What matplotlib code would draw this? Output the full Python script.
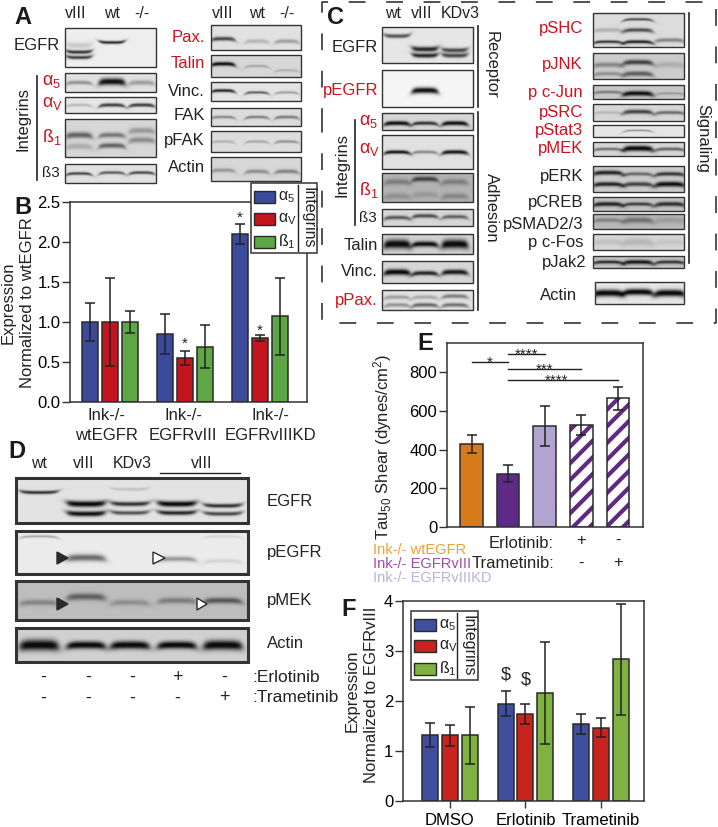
import numpy as np
import matplotlib
matplotlib.use("Agg")
import matplotlib.pyplot as plt
from matplotlib.patches import Polygon, Rectangle

plt.rcParams["font.family"] = ["Liberation Sans", "DejaVu Sans"]
plt.rcParams["mathtext.fontset"] = "custom"
plt.rcParams["mathtext.rm"] = "Liberation Sans"
plt.rcParams["mathtext.default"] = "regular"
plt.rcParams["hatch.linewidth"] = 3.0
plt.rcParams["text.color"] = "#222222"

W, H = 718, 827
INK = "#222222"
RED = "#C8141E"

# ── Bar data ───────────────────────────────────────────────────────────────
B_GROUPS = ["Ink-/-\nwtEGFR", "Ink-/-\nEGFRvIII", "Ink-/-\nEGFRvIIIKD"]
B_A5 = [1.00, 0.85, 2.10]
B_AV = [1.00, 0.55, 0.80]
B_B1 = [1.00, 0.69, 1.07]
B_A5_ERR = [0.24, 0.25, 0.125]
B_AV_ERR = [0.55, 0.09, 0.04]
B_B1_ERR = [0.135, 0.27, 0.48]
B_TICKS = [0.0, 0.5, 1.0, 1.5, 2.0, 2.5]

E_VALUES = [430, 275, 520, 527, 665]
E_ERR = [47, 44, 104, 53, 60]
E_TICKS = [0, 200, 400, 600, 800]
# bracket: from bar, to bar, height, stars, stars x
E_BRACKETS = [(0, 1, 854, "*", 0.5), (1, 2, 892, "****", 1.5), (1, 3, 818, "***", 2.0), (1, 4, 758, "****", 2.33)]

F_GROUPS = ["DMSO", "Erlotinib", "Trametinib"]
F_A5 = [1.32, 1.95, 1.54]
F_AV = [1.32, 1.74, 1.47]
F_B1 = [1.32, 2.16, 2.84]
F_A5_ERR = [0.235, 0.25, 0.20]
F_AV_ERR = [0.21, 0.20, 0.185]
F_B1_ERR = [0.57, 1.02, 1.11]
F_TICKS = [0, 1, 2, 3, 4]

# ── Blots: (label, y0, y1, background, [(lane, y fraction, darkness, thickness)]) ──
A1_LANES = [79, 112, 142]
A1_BLOTS = [
    ("EGFR", 28, 67, .93, [(0, .62, .8, 1.8), (0, .76, .75, 1.8), (0, .45, .15, 3), (1, .37, .85, 1.5)]),
    ("a5", 73, 92, .88, [(0, .5, .35, 2), (1, .45, .95, 3.5), (2, .5, .3, 2.5)]),
    ("aV", 97, 113, .90, [(0, .5, .2, 1.5), (1, .5, .75, 1.8), (2, .5, .75, 1.8)]),
    ("b1", 119, 157, .84, [(0, .42, .55, 3), (0, .72, .2, 3), (1, .42, .45, 2.5), (1, .7, .55, 2.5), (2, .3, .3, 3), (2, .55, .35, 3)]),
    ("b3", 164, 183, .88, [(0, .5, .7, 1.5), (1, .45, .6, 1.5), (2, .45, .7, 1.5)]),
]
A2_LANES = [223, 257, 287]
A2_BLOTS = [
    ("Pax.", 25, 50, .88, [(0, .55, .7, 2), (1, .65, .2, 2), (2, .65, .3, 2)]),
    ("Talin", 55, 77, .84, [(0, .4, .95, 2), (1, .5, .25, 1.2), (2, .7, .2, 1.2)]),
    ("Vinc.", 82, 101, .89, [(0, .45, .85, 1.6), (1, .55, .6, 1.3), (2, .55, .3, 1.3)]),
    ("FAK", 108, 126, .86, [(0, .5, .4, 1.4), (1, .5, .45, 1.4), (2, .5, .45, 1.6)]),
    ("pFAK", 131, 152, .87, [(0, .5, .2, 1.4), (1, .5, .25, 1.4), (2, .5, .35, 1.4)]),
    ("Actin", 157, 181, .84, [(0, .55, .3, 2), (1, .6, .35, 2), (2, .6, .4, 2)]),
]
C1_LANES = [397, 425, 455]
C1_BLOTS = [
    ("EGFR", 27, 63, .90, [(0, .25, .65, 2), (1, .62, .85, 2.5), (1, .8, .85, 2.2), (2, .65, .7, 2.2), (2, .8, .7, 2.2)]),
    ("pEGFR", 70, 107, .96, [(1, .55, .95, 3)]),
    ("a5", 113, 130, .84, [(0, .6, .95, 2.2), (1, .6, .8, 1.8), (2, .6, .95, 2.2)]),
    ("aV", 135, 169, .88, [(0, .5, .92, 1.8), (1, .5, .4, 1.6), (2, .5, .92, 2)]),
    ("b1", 173, 202, .70, [(0, .3, .3, 3), (0, .8, .2, 3), (1, .2, .65, 2.5), (1, .75, .15, 3), (2, .3, .3, 3), (2, .8, .25, 3)]),
    ("b3", 209, 226, .84, [(0, .5, .6, 2), (1, .4, .65, 2), (2, .45, .55, 2)]),
    ("Talin", 234, 254, .82, [(0, .5, 1, 4.5), (1, .5, .95, 2.8), (2, .5, 1, 4.5)]),
    ("Vinc.", 261, 283, .84, [(0, .5, 1, 3), (1, .55, .85, 2.2), (2, .5, .9, 2.6)]),
    ("pPax.", 290, 310, .88, [(0, .35, .3, 2), (0, .75, .35, 2), (1, .35, .25, 2), (1, .75, .55, 2), (2, .3, .45, 2), (2, .75, .5, 2)]),
]
C2_LANES = [608, 638, 670]
C2_BLOTS = [
    ("pSHC", 13, 47, .86, [(0, .85, .75, 1.5), (0, .5, .2, 2), (1, .18, .65, 1.3), (1, .5, .65, 2), (1, .85, .85, 1.7), (2, .8, .4, 2)]),
    ("pJNK", 53, 79, .80, [(0, .45, .35, 2.5), (0, .8, .3, 2), (1, .35, .7, 2.5), (1, .8, .55, 2.5), (2, .45, .15, 3)]),
    ("p c-Jun", 85, 99, .78, [(0, .5, .4, 1.5), (1, .6, .95, 2.5), (2, .6, .25, 1.2)]),
    ("pSRC", 104, 121, .84, [(0, .5, .15, 1.5), (1, .45, .7, 2.2), (2, .5, .5, 1.8)]),
    ("pStat3", 125, 137, .90, [(1, .45, .4, .9)]),
    ("pMEK", 142, 156, .84, [(0, .5, .5, 1.5), (1, .45, 1, 2.8), (2, .5, .55, 1.7)]),
    ("pERK", 166, 192, .80, [(0, .25, .85, 2.2), (0, .7, .85, 2.2), (1, .3, .5, 1.8), (1, .7, .7, 2.2), (2, .3, .75, 2), (2, .7, .95, 2.6)]),
    ("pCREB", 197, 211, .76, [(0, .5, .85, 2.2), (1, .5, .7, 1.8), (2, .5, .8, 2.2)]),
    ("pSMAD2/3", 214, 229, .72, [(0, .4, .3, 2), (1, .4, .4, 3), (2, .4, .15, 3)]),
    ("p c-Fos", 234, 250, .84, [(0, .5, .1, 3), (1, .5, .15, 4), (2, .5, .08, 3)]),
    ("pJak2", 256, 268, .76, [(0, .5, .8, 1.7), (1, .5, .9, 2.2), (2, .5, .75, 1.8)]),
    ("Actin", 282, 304, .90, [(0, .5, 1, 3.5), (1, .45, 1, 3.2), (2, .5, 1, 3.5)]),
]
D_LANES = [39, 86, 130, 177, 223]
D_BLOTS = [
    ("EGFR", 478, 523, .89, [(0, .32, .8, 1.7), (1, .58, 1, 3), (1, .8, .95, 2.6), (2, .58, .8, 2.2), (2, .78, .65, 2), (2, .25, .15, 1.5), (3, .58, 1, 2.8), (3, .78, .85, 2.2), (4, .62, .8, 2), (4, .8, .7, 2)]),
    ("pEGFR", 531, 574, .92, [(0, .12, .3, 1.2), (1, .62, .55, 3.5), (3, .65, .35, 2.5), (4, .7, .1, 2), (4, .12, .1, 1.2)]),
    ("pMEK", 581, 620, .74, [(0, .55, .3, 3), (1, .4, .5, 3.5), (2, .55, .25, 3), (3, .5, .35, 3), (4, .5, .55, 3)]),
    ("Actin", 628, 662, .82, [(0, .5, 1, 5.5), (1, .5, 1, 3.8), (2, .5, 1, 4), (3, .5, 1, 3.8), (4, .5, 1, 4.8)]),
]
D_LABEL_Y = [501, 553, 600, 644]


def px_axes(fig, x0, y0, x1, y1):
    return fig.add_axes([x0 / W, 1 - y1 / H, (x1 - x0) / W, (y1 - y0) / H])


def draw_blot(ax, x0, x1, y0, y1, bg, bands, lanes, half, edge=1.0, bend=1.6):
    """Paint one membrane strip as a grey image with soft curved bands."""
    nx, ny = int((x1 - x0) * 2), int((y1 - y0) * 2)
    xs = np.linspace(x0, x1, nx)
    ys = np.linspace(y0, y1, ny)
    xx, yy = np.meshgrid(xs, ys)
    img = np.full(xx.shape, float(bg))
    for lane, frac, dark, thick in bands:
        cx = lanes[lane]
        u = (xx - cx) / half
        centre = y0 + frac * (y1 - y0) + bend * np.clip(u, -1.3, 1.3) ** 4
        win = 0.5 * (np.tanh((u + 1) * 5) - np.tanh((u - 1) * 5))
        img -= dark * bg * win * np.exp(-((yy - centre) / thick) ** 2)
    ax.imshow(np.clip(img, 0.05, 1), cmap="gray", vmin=0, vmax=1, extent=(x0, x1, y1, y0),
              aspect="auto", interpolation="bilinear", zorder=1)
    ax.add_patch(Rectangle((x0, y0), x1 - x0, y1 - y0, fill=False, ec="#333333", lw=edge, zorder=2))


def group_bars(ax, series, errs, colors, spacing, width):
    for i, (vals, err, col) in enumerate(zip(series, errs, colors)):
        x = np.arange(len(vals)) + (i - 1) * spacing
        ax.bar(x, vals, width, color=col, edgecolor="#2a2a2a", linewidth=1.1, zorder=2)
        ax.errorbar(x, vals, yerr=err, fmt="none", ecolor=INK, elinewidth=1.1, capsize=3.8,
                    capthick=1.1, zorder=3)


def style_axes(ax, ticks, fmt=None):
    for s in ax.spines.values():
        s.set_linewidth(1.1)
        s.set_color("#333333")
    ax.set_yticks(ticks)
    if fmt:
        ax.set_yticklabels([fmt % t for t in ticks])
    ax.tick_params(axis="y", length=5.5, width=1.0, labelsize=12, pad=1.5, color="#333333")


def integrin_legend(ov, x0, y0, x1, y1, colors, sw_x, sw_w, sw_ys, sw_h, line_x, text_x):
    ov.add_patch(Rectangle((x0, y0), x1 - x0, y1 - y0, fc="white", ec="#333333", lw=1.1, zorder=5))
    for col, sy, lab in zip(colors, sw_ys, ["α$_{5}$", "α$_{V}$", "ß$_{1}$"]):
        ov.add_patch(Rectangle((sw_x, sy), sw_w, sw_h, fc=col, ec="#2a2a2a", lw=1.0, zorder=6))
        ov.text(sw_x + sw_w + 3, sy + sw_h / 2, lab, fontsize=11.5, va="center", ha="left", zorder=6)
    ov.plot([line_x, line_x], [y0 + 2, y1 - 2], color=INK, lw=1.0, zorder=6)
    ov.text(text_x, (y0 + y1) / 2, "Integrins", rotation=270, fontsize=11.5, ha="center", va="center", zorder=6)


fig = plt.figure(figsize=(W / 100, H / 100), dpi=100)

# ── Panel B ────────────────────────────────────────────────────────────────
BLUE, CRIM, GRN = "#3B4A9A", "#C4141E", "#5DA845"
axb = px_axes(fig, 70, 202, 307, 402)
group_bars(axb, [B_A5, B_AV, B_B1], [B_A5_ERR, B_AV_ERR, B_B1_ERR], [BLUE, CRIM, GRN], 0.265, 0.213)
axb.set_xlim(-0.533, 2.627)
axb.set_ylim(0, 2.5)
style_axes(axb, B_TICKS, "%.1f")
axb.set_xticks([])
for x, y in [(2 - 0.265, 2.30), (1, 0.73), (2, 0.89)]:
    axb.text(x, y, "*", fontsize=11, ha="center", va="center")

# ── Panel E ────────────────────────────────────────────────────────────────
axe = px_axes(fig, 447, 343, 643, 527)
E_COLORS = ["#D67A1B", "#5F2A85", "#B2A4D0"]
xe = np.arange(len(E_VALUES))
axe.bar(xe[:3], E_VALUES[:3], 0.615, color=E_COLORS, edgecolor="#2a2a2a", linewidth=1.1, zorder=2)
axe.bar(xe[3:], E_VALUES[3:], 0.615, color="white", edgecolor="#5F2A85", hatch="//", linewidth=0, zorder=2)
axe.bar(xe[3:], E_VALUES[3:], 0.615, fill=False, edgecolor="#2a2a2a", linewidth=1.1, zorder=2.5)
axe.errorbar(xe, E_VALUES, yerr=E_ERR, fmt="none", ecolor=INK, elinewidth=1.1, capsize=3.8, capthick=1.1, zorder=3)
axe.set_xlim(-0.67, 4.686)
axe.set_ylim(0, 950)
style_axes(axe, E_TICKS)
axe.set_xticks([])
for a, b, y, stars, sx in E_BRACKETS:
    axe.plot([a, b], [y, y], color=INK, lw=1.0, zorder=3)
    axe.text(sx, y - 26, stars, fontsize=11, ha="center", va="baseline")

# ── Panel F ────────────────────────────────────────────────────────────────
F_COLS = ["#3F4E9F", "#C8231D", "#7FB241"]
axf = px_axes(fig, 403, 601, 644, 801)
group_bars(axf, [F_A5, F_AV, F_B1], [F_A5_ERR, F_AV_ERR, F_B1_ERR], F_COLS, 0.262, 0.212)
axf.set_xlim(-0.62, 2.57)
axf.set_ylim(0, 4)
style_axes(axf, F_TICKS)
axf.set_xticks(range(3))
axf.set_xticklabels(F_GROUPS)
axf.tick_params(axis="x", length=5, width=1.0, labelsize=12, pad=3.5, color="#333333")
axf.text(1 - 0.262, 2.52, "$", fontsize=13, ha="center", va="center", parse_math=False)
axf.text(1, 2.42, "$", fontsize=13, ha="center", va="center", parse_math=False)

# ── Overlay for blots, labels, panel letters ───────────────────────────────
ov = px_axes(fig, 0, 0, W, H)
ov.set_xlim(0, W)
ov.set_ylim(H, 0)
ov.axis("off")
ov.patch.set_alpha(0)
ov.set_zorder(10)


def lab(x, y, s, color=INK, ha="center", size=12, **kw):
    ov.text(x, y, s, color=color, ha=ha, va="center", fontsize=size, zorder=7, **kw)


SYMS = {"a5": "α$_{5}$", "aV": "α$_{V}$", "b1": "ß$_{1}$", "b3": "ß3"}


def bend_for(name):
    # receptor bands smile, everything else frowns
    return -1.4 if name == "EGFR" else 1.6


for name, y0, y1, bg, bands in A1_BLOTS:
    draw_blot(ov, 65, 156, y0, y1, bg, bands, A1_LANES, 13, bend=bend_for(name))
for name, y0, y1, bg, bands in A2_BLOTS:
    draw_blot(ov, 211, 301, y0, y1, bg, bands, A2_LANES, 12)
for name, y0, y1, bg, bands in C1_BLOTS:
    draw_blot(ov, 382, 473, y0, y1, bg, bands, C1_LANES, 13, bend=bend_for(name))
for name, y0, y1, bg, bands in C2_BLOTS:
    draw_blot(ov, 593 if name != "Actin" else 595, 684, y0, y1, bg, bands, C2_LANES, 15)
for name, y0, y1, bg, bands in D_BLOTS:
    draw_blot(ov, 16, 248, y0, y1, bg, bands, D_LANES, 19, edge=2.2, bend=bend_for(name))

# panel A
for x, s in zip(A1_LANES, ["vIII", "wt", "-/-"]):
    lab(x if s != "vIII" else 76, 14, s, size=11.5)
for x, s in zip(A2_LANES, ["vIII", "wt", "-/-"]):
    lab(x, 14, s, size=11.5)
lab(60, 45, "EGFR", ha="right")
lab(42, 82, SYMS["a5"], RED, "left", 13)
lab(42, 104, SYMS["aV"], RED, "left", 13)
lab(42, 137, SYMS["b1"], RED, "left", 13)
lab(42, 173, SYMS["b3"], INK, "left", 11)
ov.plot([37, 37], [76, 180], color=INK, lw=1.2)
lab(23, 119, "Integrins", rotation=90)
A2_Y = [37, 64, 91, 116, 141, 167]
for (name, *_), y in zip(A2_BLOTS, A2_Y):
    lab(205, y, name, RED if name in ("Pax.", "Talin") else INK, "right")

# panel B text
lab(8, 303, "Expression", rotation=90)
lab(28, 303, "Normalized to wtEGFR", rotation=90)
for x, s in zip([106, 183, 270], B_GROUPS):
    l1, l2 = s.split("\n")
    lab(x, 415, l1)
    lab(x, 435, l2)
integrin_legend(ov, 251, 183, 317, 253, [BLUE, CRIM, GRN], 254, 21, [191, 213, 236], 12, 298, 308)

# panel C
for x, s in zip([393, 422, 460], ["wt", "vIII", "KDv3"]):
    lab(x, 14, s, size=11.5)
lab(378, 48, "EGFR", ha="right")
lab(378, 91, "pEGFR", RED, "right")
lab(359, 122, SYMS["a5"], RED, "left", 13)
lab(359, 150, SYMS["aV"], RED, "left", 13)
lab(359, 190, SYMS["b1"], RED, "left", 13)
lab(359, 218, SYMS["b3"], INK, "left", 11)
ov.plot([355, 355], [120, 225], color=INK, lw=1.2)
lab(342, 165, "Integrins", rotation=90)
lab(378, 245, "Talin", ha="right")
lab(378, 272, "Vinc.", ha="right")
lab(378, 300, "pPax.", RED, "right")
ov.plot([478, 478], [26, 107], color=INK, lw=1.2)
ov.plot([478, 478], [112, 310], color=INK, lw=1.2)
lab(491, 65, "Receptor", rotation=270)
lab(491, 208, "Adhesion", rotation=270)
C2_Y = [28, 65, 92, 113, 130, 149, 177, 202, 224, 243, 262, 295]
C2_RED = ("pSHC", "pJNK", "p c-Jun", "pSRC", "pStat3", "pMEK")
for (name, *_), y in zip(C2_BLOTS, C2_Y):
    xr = {"pJak2": 587, "Actin": 577}.get(name, 583)
    lab(xr, y, name, RED if name in C2_RED else INK, "right")
ov.plot([689, 689], [13, 263], color=INK, lw=1.2)
lab(703, 138, "Signaling", rotation=270)
# dashed outline round panel C
ov.plot([322, 322, 716, 716, 322, 322], [125, 2, 2, 323, 323, 125], color=INK, lw=1.1,
        dashes=(11, 13.5))

# panel D
for x, s in zip([39, 84, 132, 202], ["wt", "vIII", "KDv3", "vIII"]):
    lab(x, 464, s, size=11.5)
ov.plot([160, 240], [473, 473], color=INK, lw=1.0)
for (name, *_), y in zip(D_BLOTS, D_LABEL_Y):
    lab(267, y, name, ha="left")
for x0, x1, y, fc in [(57, 68, 558, "#2a2a2a"), (153, 165, 558, "white"), (57, 68, 604, "#2a2a2a"), (197, 207, 604, "white")]:
    ov.add_patch(Polygon([(x0, y - 6), (x1, y), (x0, y + 6)], fc=fc, ec="#2a2a2a", lw=1.0, zorder=6))
D_SIGNS = [["-", "-", "-", "+", "-"], ["-", "-", "-", "-", "+"]]
for row, y, name in zip(D_SIGNS, [677, 698], [":Erlotinib", ":Trametinib"]):
    for x, s in zip([43, 88, 132, 177, 224], row):
        lab(x, y, s, size=13)
    lab(252, y, name, ha="left", size=12.5)

# panel E text
lab(383, 447, "Tau$_{50}$ Shear (dynes/cm$^{2}$)", rotation=90)
lab(554, 543, "Erlotinib:", ha="right")
lab(554, 563, "Trametinib:", ha="right")
lab(581, 540, "+")
lab(618, 540, "-")
lab(581, 563, "-")
lab(618, 562, "+")
lab(373, 550, "Ink-/- wtEGFR", "#E8A23C", "left", 10.5)
lab(373, 564, "Ink-/- EGFRvIII", "#A14CA8", "left", 10.5)
lab(373, 578, "Ink-/- EGFRvIIIKD", "#BDB0DC", "left", 10.5)

# panel F text
lab(352, 691, "Expression", rotation=90)
lab(372, 695, "Normalized to EGFRvIII", rotation=90)
integrin_legend(ov, 411, 611, 478, 680, F_COLS, 414, 22, [619, 640, 663], 11.5, 457, 468)

for x, y, s in [(23, 17, "A"), (23, 208, "B"), (336, 17, "C"), (17, 451, "D"), (425, 344, "E"), (349, 610, "F")]:
    lab(x, y, s, "#1a1a1a", size=17, fontweight="bold")

fig.savefig("out.png", dpi=100)
